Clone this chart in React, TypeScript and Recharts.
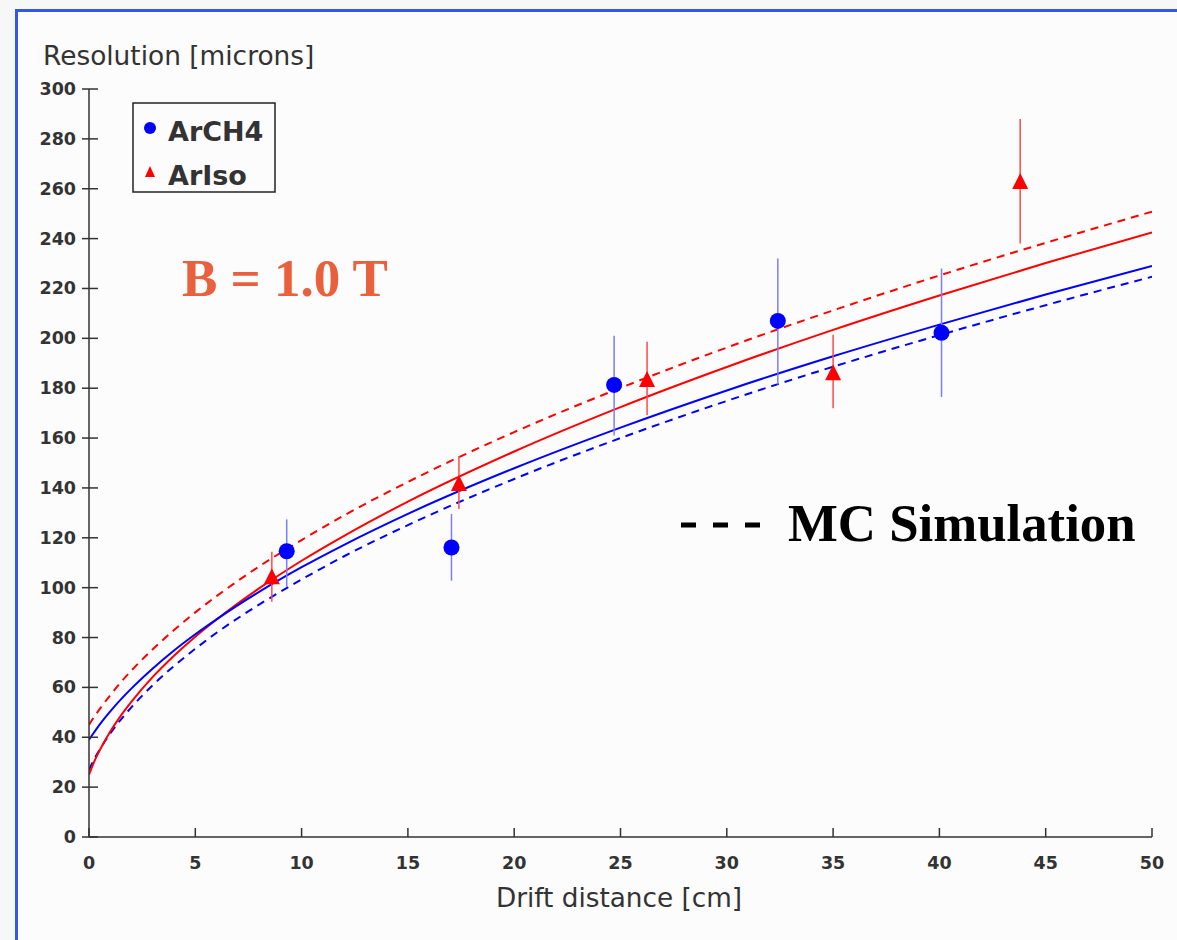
import { ComposedChart, Line, Scatter, ErrorBar, XAxis, YAxis } from 'recharts';

// measured points (x in cm, resolution in microns)
const archX = [9.3, 17.05, 24.7, 32.4, 40.1];
const archY = [114.6, 116.1, 181.3, 207, 202.2];
const archLo = [100.4, 102.8, 161, 181.5, 176.5];
const archHi = [127.4, 129.6, 201, 232, 228];

const isoX = [8.6, 17.4, 26.25, 35.0, 43.8];
const isoY = [104.2, 141.6, 183.3, 186, 262.7];
const isoLo = [94.4, 131.6, 169.3, 172, 238];
const isoHi = [114.4, 152.8, 198.6, 201.4, 288];

// fitted curves and MC simulation, read along the drift distance
const fitX = [0, 0.25, 0.5, 1, 1.5, 2, 3, 4, 5, 6, 8, 10, 12, 15, 20, 25, 30, 35, 40, 45, 50];
const archFit = [39, 42.1, 45.1, 50.4, 55.2, 59.6, 67.6, 74.8, 81.3, 87.3, 98.3, 108.2, 117.2, 129.6, 147.9, 164.2, 179.1, 192.8, 205.5, 217.6, 229];
const isoFit = [25, 30.3, 34.7, 42.3, 48.7, 54.3, 64.2, 72.7, 80.3, 87.2, 99.7, 110.8, 120.8, 134.5, 154.6, 172.4, 188.5, 203.4, 217.2, 230.2, 242.5];
const isoMc = [45, 48.3, 51.3, 56.9, 62.1, 66.8, 75.3, 83, 90.1, 96.6, 108.5, 119.1, 129, 142.4, 162.4, 180.1, 196.3, 211.2, 225.2, 238.3, 250.8];
const archMc = [27, 31.3, 35, 41.5, 47.1, 52.1, 60.9, 68.6, 75.5, 81.9, 93.2, 103.3, 112.6, 125.1, 143.6, 160, 174.9, 188.6, 201.3, 213.3, 224.7];

const xTicks = [0, 5, 10, 15, 20, 25, 30, 35, 40, 45, 50];
const yTicks = [0, 20, 40, 60, 80, 100, 120, 140, 160, 180, 200, 220, 240, 260, 280, 300];

const BLUE = '#0000ff';
const RED = '#ff0000';
const AXIS = '#333333';
const FONT = '"DejaVu Sans", sans-serif';
const SERIF = '"Liberation Serif", serif';

const points = (xs: number[], ys: number[], lo: number[], hi: number[]) =>
  xs.map((x, i) => ({ x, y: ys[i], err: [ys[i] - lo[i], hi[i] - ys[i]] }));
const curve = (ys: number[]) => fitX.map((x, i) => ({ x, y: ys[i] }));

const archData = points(archX, archY, archLo, archHi);
const isoData = points(isoX, isoY, isoLo, isoHi);

function YTick({ x, y, payload }: any) {
  return (
    <g>
      <line x1={x - 7} x2={x + 9} y1={y} y2={y} stroke={AXIS} strokeWidth={1.5} />
      <text x={x - 13} y={y + 6} textAnchor="end" fontFamily={FONT} fontWeight="bold" fontSize={17.5} fill={AXIS}>
        {payload.value}
      </text>
    </g>
  );
}

function XTick({ x, y, payload }: any) {
  return (
    <g>
      <line x1={x} x2={x} y1={y - 9} y2={y} stroke={AXIS} strokeWidth={1.5} />
      <text x={x} y={y + 32} textAnchor="middle" fontFamily={FONT} fontWeight="bold" fontSize={17.5} fill={AXIS}>
        {payload.value}
      </text>
    </g>
  );
}

const Dot = ({ cx, cy }: any) => <circle cx={cx} cy={cy} r={8} fill={BLUE} />;
const Tri = ({ cx, cy }: any) => (
  <polygon points={`${cx},${cy - 9} ${cx - 8},${cy + 7} ${cx + 8},${cy + 7}`} fill={RED} />
);

export default function App() {
  return (
    <div style={{ position: 'absolute', left: 0, top: 0, width: 1177, height: 940, overflow: 'hidden', background: '#f6f7f7' }}>
      <div
        style={{
          position: 'absolute',
          left: 15,
          top: 9,
          width: 1200,
          height: 1000,
          borderLeft: '3px solid #3556e6',
          borderTop: '3px solid #3556e6',
          background: '#fbfcfb',
        }}
      />
      <div style={{ position: 'absolute', left: 0, top: 0 }}>
        <ComposedChart width={1177} height={940} margin={{ top: 89, right: 25, bottom: 0, left: 0 }}>
          <XAxis
            type="number"
            dataKey="x"
            domain={[0, 50]}
            ticks={xTicks}
            height={103}
            tickSize={0}
            tickMargin={0}
            tickLine={false}
            tick={<XTick />}
            axisLine={{ stroke: AXIS, strokeWidth: 1.5 }}
            allowDataOverflow
          />
          <YAxis
            type="number"
            dataKey="y"
            domain={[0, 300]}
            ticks={yTicks}
            width={89}
            tickSize={0}
            tickMargin={0}
            tickLine={false}
            tick={<YTick />}
            axisLine={{ stroke: AXIS, strokeWidth: 1.5 }}
            allowDataOverflow
          />
          <Line data={curve(isoMc)} dataKey="y" type="monotone" stroke={RED} strokeWidth={2} strokeDasharray="8 6" dot={false} isAnimationActive={false} />
          <Line data={curve(archMc)} dataKey="y" type="monotone" stroke={BLUE} strokeWidth={2} strokeDasharray="8 6" dot={false} isAnimationActive={false} />
          <Line data={curve(isoFit)} dataKey="y" type="monotone" stroke={RED} strokeWidth={2} dot={false} isAnimationActive={false} />
          <Line data={curve(archFit)} dataKey="y" type="monotone" stroke={BLUE} strokeWidth={2} dot={false} isAnimationActive={false} />
          <Scatter data={archData} dataKey="y" shape={<Dot />} isAnimationActive={false}>
            <ErrorBar dataKey="err" direction="y" width={0} stroke="#7d7dff" strokeWidth={1.5} />
          </Scatter>
          <Scatter data={isoData} dataKey="y" shape={<Tri />} isAnimationActive={false}>
            <ErrorBar dataKey="err" direction="y" width={0} stroke="#ff4a4a" strokeWidth={1.5} />
          </Scatter>
        </ComposedChart>
      </div>
      <svg width={1177} height={940} style={{ position: 'absolute', left: 0, top: 0, pointerEvents: 'none' }}>
        <text x={43} y={65} fontFamily={FONT} fontSize={26.4} fill={AXIS}>
          Resolution [microns]
        </text>
        <text x={619} y={907} textAnchor="middle" fontFamily={FONT} fontSize={26.3} fill={AXIS}>
          Drift distance [cm]
        </text>
        <rect x={133} y={103} width={142} height={89} fill="#fbfcfb" stroke="#222" strokeWidth={1.5} />
        <circle cx={150} cy={128} r={6} fill={BLUE} />
        <text x={168} y={141} fontFamily={FONT} fontWeight="bold" fontSize={27} fill={AXIS}>
          ArCH4
        </text>
        <polygon points="150,166 145,177 155,177" fill={RED} />
        <text x={168} y={185} fontFamily={FONT} fontWeight="bold" fontSize={27} fill={AXIS}>
          ArIso
        </text>
        <text x={182} y={296} fontFamily={SERIF} fontWeight="bold" fontSize={53} fill="#e9603d">
          B = 1.0 T
        </text>
        <line x1={681} x2={760} y1={525} y2={525} stroke="#000" strokeWidth={5} strokeDasharray="15 17" />
        <text x={788} y={541} fontFamily={SERIF} fontWeight="bold" fontSize={52.8} fill="#000">
          MC Simulation
        </text>
      </svg>
    </div>
  );
}
